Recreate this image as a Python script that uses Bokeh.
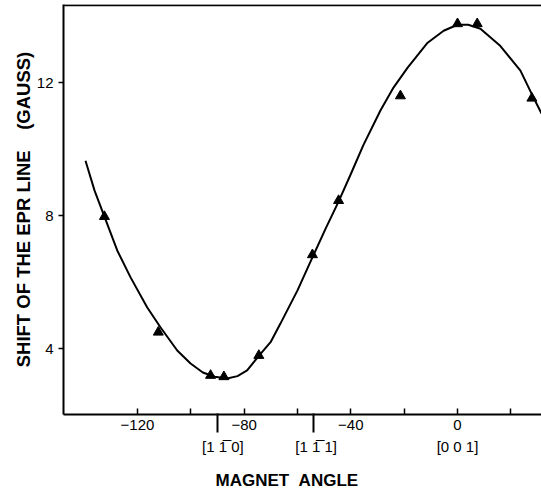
from bokeh.plotting import figure
from bokeh.models import FixedTicker, LinearAxis, Span, Range1d
from bokeh.embed import file_html
from bokeh.resources import INLINE

# Fitted curve (magnet angle in degrees, shift in gauss)
curve_x = [-139.5, -136.1, -132.4, -127.6, -122.6, -116.4, -111.4, -105.1, -100.1,
           -95.5, -91.0, -86.4, -82.5, -78.9, -74.5, -70.1, -66.4, -60.0, -54.4,
           -49.5, -44.6, -40.0, -35.3, -28.9, -24.0, -18.7, -11.2, -5.2, 0.0, 4.0,
           8.6, 16.1, 23.6, 28.5, 31.5]
curve_y = [9.65, 8.75, 7.97, 6.95, 6.14, 5.24, 4.64, 3.94, 3.55,
           3.28, 3.15, 3.10, 3.17, 3.34, 3.78, 4.19, 4.75, 5.75, 6.74,
           7.60, 8.42, 9.25, 10.12, 11.16, 11.85, 12.45, 13.20, 13.56, 13.74, 13.74,
           13.62, 13.10, 12.36, 11.55, 11.07]

# Measured points (triangles)
pts_x = [-132.4, -112.2, -92.6, -87.6, -74.5, -54.4, -44.6, -21.4, 0.0, 7.4, 27.9]
pts_y = [7.97, 4.49, 3.19, 3.15, 3.79, 6.82, 8.45, 11.60, 13.77, 13.77, 11.53]

x_label_ticks = [-120, -80, -40, 0]
x_plain_ticks = [-100, -60, -20, 20]
x_tick_labels = {-120: "\u2212120", -80: "\u221280", -40: "\u221240", 0: "0"}
y_ticks = [4, 8, 12]

# crystal directions marked under the angle axis
dir_x = [-88, -53, 0]
dir_labels = {-88: "[1\u00a01\u0305\u00a00]", -53: "[1\u00a01\u0305\u00a01]", 0: "[0\u00a00\u00a01]"}
arrow_x = [-90, -54]
title_x = [-64]
x_title = {-64: "MAGNET\u00a0\u00a0ANGLE"}

FONT = "Liberation Sans"

p = figure(width=541, height=495,
           x_range=Range1d(-147.75, 31.5), y_range=Range1d(2.015, 14.35),
           output_backend="svg", toolbar_location=None,
           min_border_left=63, min_border_right=0, min_border_top=4, min_border_bottom=81)

p.outline_line_color = None
p.xgrid.visible = False
p.ygrid.visible = False
p.background_fill_color = "white"
p.border_fill_color = "white"

# main angle axis (labelled ticks every 40, plain ticks in between)
p.xaxis.ticker = FixedTicker(ticks=x_label_ticks, minor_ticks=x_plain_ticks)
p.xaxis.major_label_overrides = x_tick_labels
p.xaxis.major_tick_in = 6
p.xaxis.major_tick_out = 0
p.xaxis.minor_tick_in = 6
p.xaxis.minor_tick_out = 0
p.xaxis.minor_tick_line_color = "black"
p.xaxis.minor_tick_line_width = 1.5
p.xaxis.major_label_standoff = 5
p.xaxis.axis_line_width = 2
p.xaxis.major_tick_line_width = 1.5
p.xaxis.major_label_text_font = FONT
p.xaxis.major_label_text_font_size = "15px"
p.xaxis.major_label_text_color = "black"

# arrows pointing at the crystal directions (unlabelled ticks)
arrow_axis = LinearAxis(ticker=FixedTicker(ticks=[], minor_ticks=arrow_x), axis_line_color=None,
                        major_tick_line_color=None, minor_tick_in=19, minor_tick_out=0,
                        minor_tick_line_width=2, minor_tick_line_color="black",
                        major_label_standoff=0)
p.add_layout(arrow_axis, "below")

# direction labels
dir_axis = LinearAxis(ticker=FixedTicker(ticks=dir_x), major_label_overrides=dir_labels,
                      axis_line_color=None, minor_tick_line_color=None,
                      major_tick_line_color=None, major_tick_in=0, major_tick_out=0,
                      major_label_standoff=5, major_label_text_font=FONT,
                      major_label_text_font_size="15px", major_label_text_color="black")
p.add_layout(dir_axis, "below")

# axis title
title_axis = LinearAxis(ticker=FixedTicker(ticks=title_x), major_label_overrides=x_title,
                        axis_line_color=None, minor_tick_line_color=None,
                        major_tick_line_color=None, major_tick_in=0, major_tick_out=0,
                        major_label_standoff=13, major_label_text_font=FONT,
                        major_label_text_font_size="17px", major_label_text_font_style="bold",
                        major_label_text_color="black")
p.add_layout(title_axis, "below")

p.yaxis.ticker = FixedTicker(ticks=y_ticks)
p.yaxis.minor_tick_line_color = None
p.yaxis.major_tick_in = 0
p.yaxis.major_tick_out = 5
p.yaxis.major_label_standoff = 5
p.yaxis.axis_line_width = 2
p.yaxis.major_tick_line_width = 1.5
p.yaxis.major_label_text_font = FONT
p.yaxis.major_label_text_font_size = "15px"
p.yaxis.major_label_text_color = "black"
p.yaxis.axis_label = "SHIFT OF THE EPR LINE\u00a0\u00a0\u00a0\u00a0(GAUSS)"
p.yaxis.axis_label_text_font = FONT
p.yaxis.axis_label_text_font_size = "18.5px"
p.yaxis.axis_label_text_font_style = "bold"
p.yaxis.axis_label_text_color = "black"
p.yaxis.axis_label_standoff = 0

# top border
p.add_layout(Span(location=14.33, dimension="width", line_color="black", line_width=2))

# curve and points
p.line(curve_x, curve_y, line_color="black", line_width=2)
p.scatter(pts_x, pts_y, marker="triangle", size=10, fill_color="black", line_color="black")

open("out.html", "w").write(file_html(p, INLINE))
